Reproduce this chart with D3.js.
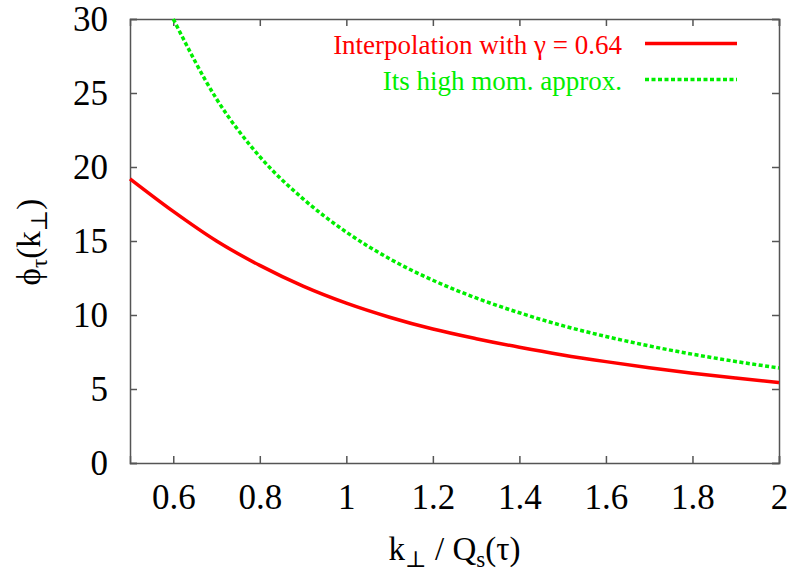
<!DOCTYPE html>
<html>
<head>
<meta charset="utf-8">
<script src="https://cdn.jsdelivr.net/npm/d3@7"></script>
<style>
  body { margin: 0; background: #fff; }
  svg text { font-family: "Liberation Serif", "Times New Roman", Times, "DejaVu Serif", serif; }
</style>
</head>
<body>
<svg id="chart" width="789" height="571"></svg>
<script>
// values
const kRed = [0.5, 0.6, 0.7, 0.8, 0.9, 1.0, 1.1, 1.2, 1.3, 1.4, 1.5, 1.6, 1.7, 1.8, 1.9, 2.0];
const phiRed = [19.2, 17.0, 15.0, 13.35, 11.95, 10.8, 9.85, 9.05, 8.4, 7.82, 7.3, 6.85, 6.44, 6.07, 5.74, 5.43];

const kGreen = [0.6, 0.7, 0.8, 0.9, 1.0, 1.1, 1.2, 1.3, 1.4, 1.5, 1.6, 1.7, 1.8, 1.9, 2.0];
const phiGreen = [30.0, 24.6, 20.7, 17.85, 15.6, 13.8, 12.35, 11.15, 10.15, 9.28, 8.55, 7.91, 7.35, 6.86, 6.42];

const xTicks = [0.6, 0.8, 1.0, 1.2, 1.4, 1.6, 1.8, 2.0];
const yTicks = [0, 5, 10, 15, 20, 25, 30];

const legendLabels = ['Interpolation with \u03b3 = 0.64', 'Its high mom. approx.'];

const red = '#ff0000';
const green = '#00ee00';
const axisColor = '#555';

const margin = { left: 130, right: 10, top: 19, bottom: 108 };
const width = 789, height = 571;

const svg = d3.select('#chart');

const x = d3.scaleLinear().domain([0.5, 2]).range([margin.left, width - margin.right]);
const y = d3.scaleLinear().domain([0, 30]).range([height - margin.bottom, margin.top]);

const fmt = d => (Number.isInteger(d) ? d3.format('d')(d) : d3.format('.1f')(d));

// axes, ticks inward (gnuplot style), mirrored on top/right
const bottomAxis = d3.axisBottom(x).tickValues(xTicks).tickSize(-7).tickPadding(21).tickFormat(fmt);
const topAxis = d3.axisTop(x).tickValues(xTicks).tickSize(-7).tickFormat('');
const leftAxis = d3.axisLeft(y).tickValues(yTicks).tickSize(-7).tickPadding(22).tickFormat(fmt);
const rightAxis = d3.axisRight(y).tickValues(yTicks).tickSize(-7).tickFormat('');

function styleAxis(g) {
    g.attr('font-family', null).attr('font-size', null);
    g.selectAll('path, line').attr('stroke', axisColor).attr('stroke-width', 1.5);
    g.selectAll('text').attr('fill', '#000').style('font-size', '35px');
}

svg.append('g').attr('transform', `translate(0,${y(0)})`).call(bottomAxis).call(styleAxis)
    .selectAll('text').attr('dy', '0.71em');
svg.append('g').attr('transform', `translate(0,${y(30)})`).call(topAxis).call(styleAxis);
svg.append('g').attr('transform', `translate(${x(0.5)},0)`).call(leftAxis).call(styleAxis)
    .selectAll('text').attr('dy', '0.34em');
svg.append('g').attr('transform', `translate(${x(2)},0)`).call(rightAxis).call(styleAxis);

// curves
const line = d3.line()
    .x(d => x(d[0]))
    .y(d => y(d[1]))
    .curve(d3.curveMonotoneX);

svg.append('path')
    .datum(d3.zip(kRed, phiRed))
    .attr('fill', 'none')
    .attr('stroke', red)
    .attr('stroke-width', 3.5)
    .attr('d', line);

svg.append('path')
    .datum(d3.zip(kGreen, phiGreen))
    .attr('fill', 'none')
    .attr('stroke', green)
    .attr('stroke-width', 3.5)
    .attr('stroke-dasharray', '4 2.5')
    .attr('d', line);

// legend
const legend = svg.append('g');
const legendRows = [
    { label: legendLabels[0], color: red, dash: null, y: 43.5 },
    { label: legendLabels[1], color: green, dash: '4 2.5', y: 79.5 }
];
legendRows.forEach(r => {
    legend.append('text')
        .attr('x', 622).attr('y', r.y).attr('dy', '0.4em')
        .attr('text-anchor', 'end')
        .attr('fill', r.color)
        .style('font-size', '27px')
        .text(r.label);
    legend.append('line')
        .attr('x1', 645).attr('x2', 737)
        .attr('y1', r.y).attr('y2', r.y)
        .attr('stroke', r.color)
        .attr('stroke-width', 3.5)
        .attr('stroke-dasharray', r.dash);
});

// axis titles
const xTitle = svg.append('text')
    .attr('x', (x(0.5) + x(2)) / 2)
    .attr('y', 560)
    .attr('text-anchor', 'middle')
    .style('font-size', '33px');
xTitle.append('tspan').text('k');
xTitle.append('tspan').attr('baseline-shift', '-30%').style('font-size', '23px').text('\u22a5');
xTitle.append('tspan').text(' / Q');
xTitle.append('tspan').attr('baseline-shift', '-30%').style('font-size', '23px').text('s');
xTitle.append('tspan').text('(\u03c4)');

const yTitle = svg.append('text')
    .attr('transform', 'translate(40,242) rotate(-90)')
    .attr('text-anchor', 'middle')
    .style('font-size', '33px');
yTitle.append('tspan').text('\u03d5');
yTitle.append('tspan').attr('baseline-shift', '-30%').style('font-size', '23px').text('\u03c4');
yTitle.append('tspan').text('(k');
yTitle.append('tspan').attr('baseline-shift', '-30%').style('font-size', '23px').text('\u22a5');
yTitle.append('tspan').text(')');
</script>
</body>
</html>
